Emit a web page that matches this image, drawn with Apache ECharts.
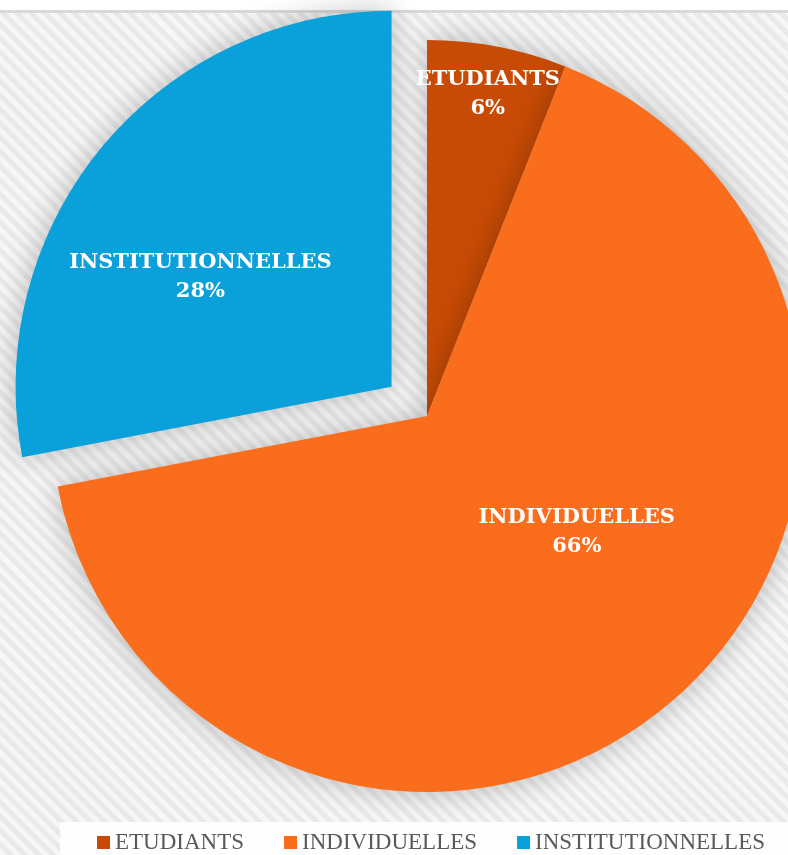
<!DOCTYPE html>
<html><head><meta charset="utf-8">
<script src="https://cdn.jsdelivr.net/npm/echarts@6/dist/echarts.min.js"></script>
<style>
html,body{margin:0;padding:0;}
#wrap{width:788px;height:855px;position:relative;
background:linear-gradient(#ffffff 0 10px,#d9d9d9 10px 13px,transparent 13px),
repeating-linear-gradient(45deg,#f6f6f6 0 5px,#e9e9e9 5px 10px);}
#chart{width:788px;height:855px;position:absolute;left:0;top:0;}
</style></head>
<body><div id="wrap"><div id="chart"></div></div>
<script>
const categories = ['ETUDIANTS', 'INDIVIDUELLES', 'INSTITUTIONNELLES'];
const values = [6, 66, 28];
const colors = ['#C84B05', '#F96D1C', '#0AA0D9'];
const exploded = [false, false, true];
const labelShift = [[25, -134], [28, -31], [-44, 12]];

const chart = echarts.init(document.getElementById('chart'), null, {renderer: 'canvas'});
chart.setOption({
  backgroundColor: 'transparent',
  animation: false,
  graphic: [{
    type: 'rect', left: 60, top: 822, z: 0,
    shape: {width: 728, height: 33},
    style: {fill: 'rgba(255,255,255,0.88)'}
  }],
  legend: {
    top: 831,
    left: 97,
    width: 691,
    itemWidth: 13,
    itemHeight: 13,
    itemGap: 40,
    icon: 'rect',
    padding: 0,
    textStyle: {fontFamily: 'Liberation Serif', fontSize: 23, color: '#595959'},
    data: categories
  },
  series: [{
    type: 'pie',
    center: [427, 416],
    radius: [0, 376],
    startAngle: 90,
    clockwise: true,
    selectedMode: 'multiple',
    selectedOffset: 46,
    percentPrecision: 0,
    emphasis: {disabled: true},
    itemStyle: {shadowBlur: 30, shadowColor: 'rgba(0,0,0,0.25)'},
    label: {
      show: true,
      position: 'inside',
      formatter: '{b}\n{d}%',
      color: '#ffffff',
      fontFamily: 'DejaVu Serif',
      fontWeight: 'bold',
      fontSize: 21,
      lineHeight: 29
    },
    labelLine: {show: false},
    labelLayout: function (p) {
      const s = labelShift[p.dataIndex];
      return {dx: s[0], dy: s[1]};
    },
    data: categories.map((c, i) => ({
      name: c, value: values[i], selected: exploded[i],
      itemStyle: {color: colors[i]}
    }))
  }]
});
</script></body></html>
